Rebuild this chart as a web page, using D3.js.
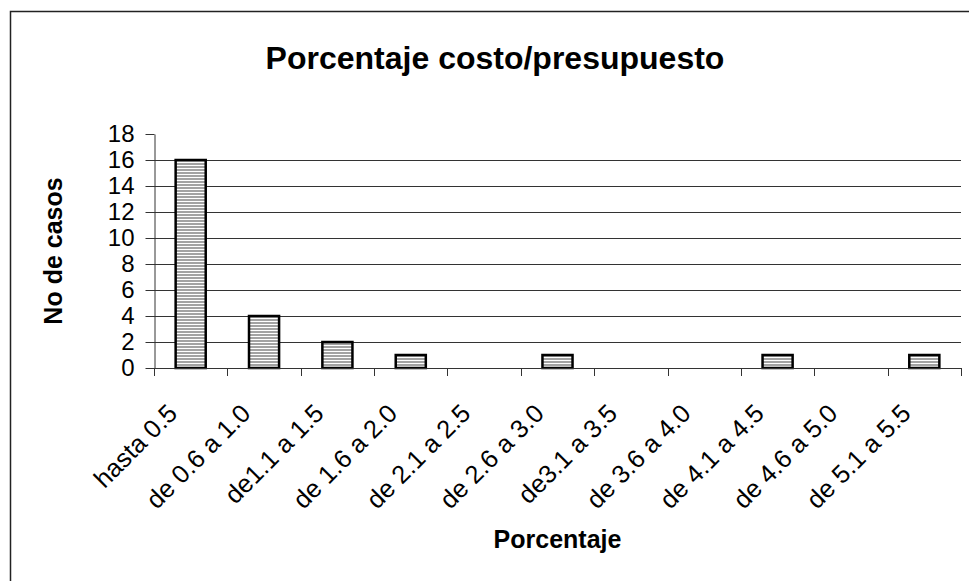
<!DOCTYPE html>
<html>
<head>
<meta charset="utf-8">
<script src="https://cdn.jsdelivr.net/npm/d3@7"></script>
<style>
  html, body { margin: 0; padding: 0; background: #fff; }
  svg { display: block; font-family: Arial, "Liberation Sans", sans-serif; }
</style>
</head>
<body>
<div id="chart"></div>
<script>
// chart data
const categories = ["hasta 0.5", "de 0.6 a 1.0", "de1.1 a 1.5", "de 1.6 a 2.0", "de 2.1 a 2.5",
    "de 2.6 a 3.0", "de3.1 a 3.5", "de 3.6 a 4.0", "de 4.1 a 4.5", "de 4.6 a 5.0", "de 5.1 a 5.5"];
const casos = [16, 4, 2, 1, 0, 1, 0, 0, 1, 0, 1];
const yTicks = [0, 2, 4, 6, 8, 10, 12, 14, 16, 18];

const W = 969, H = 581;
const plot = { left: 154, right: 961, top: 134, bottom: 368 };

const svg = d3.select("#chart").append("svg")
    .attr("width", W)
    .attr("height", H);

// striped fill like the excel pattern
const defs = svg.append("defs");
const pat = defs.append("pattern")
    .attr("id", "stripes")
    .attr("patternUnits", "userSpaceOnUse")
    .attr("width", 6)
    .attr("height", 3);
pat.append("rect").attr("width", 6).attr("height", 3).attr("fill", "#fff");
pat.append("rect").attr("y", 1).attr("width", 6).attr("height", 2).attr("fill", "#a3a3a3");

// outer chart border (right/bottom edges fall outside the picture)
svg.append("rect")
    .attr("x", 10.5).attr("y", 11.5)
    .attr("width", 1000).attr("height", 600)
    .attr("fill", "none")
    .attr("stroke", "#222")
    .attr("stroke-width", 1.5);

const x = d3.scaleBand()
    .domain(categories)
    .range([plot.left, plot.right])
    .padding(0);

const y = d3.scaleLinear()
    .domain([0, 18])
    .range([plot.bottom, plot.top]);

// gridlines (none at the top value)
svg.append("g")
    .selectAll("line")
    .data(yTicks.filter(t => t > 0 && t < 18))
    .join("line")
    .attr("x1", plot.left).attr("x2", plot.right)
    .attr("y1", d => Math.round(y(d)) + 0.5)
    .attr("y2", d => Math.round(y(d)) + 0.5)
    .attr("stroke", "#333")
    .attr("stroke-width", 1);

// bars
const barData = categories.map((c, i) => ({ cat: c, v: casos[i] })).filter(d => d.v > 0);
const barW = x.bandwidth() * 0.41;
svg.append("g")
    .selectAll("rect")
    .data(barData)
    .join("rect")
    .attr("x", d => x(d.cat) + (x.bandwidth() - barW) / 2)
    .attr("y", d => y(d.v))
    .attr("width", barW)
    .attr("height", d => y(0) - y(d.v))
    .attr("fill", "url(#stripes)")
    .attr("stroke", "#000")
    .attr("stroke-width", 2.5);

// y axis
const yAxis = svg.append("g")
    .attr("transform", `translate(${plot.left + 0.5},0)`)
    .call(d3.axisLeft(y).tickValues(yTicks).tickSize(9).tickPadding(11).tickSizeOuter(0));
yAxis.select(".domain").attr("stroke", "#333");
yAxis.selectAll(".tick line").attr("stroke", "#333");
yAxis.selectAll("text")
    .attr("font-size", 24)
    .attr("fill", "#000")
    .attr("font-family", "Arial, 'Liberation Sans', sans-serif");

// x axis line and boundary ticks
const xg = svg.append("g");
xg.append("line")
    .attr("x1", plot.left).attr("x2", plot.right + 1)
    .attr("y1", plot.bottom + 0.5).attr("y2", plot.bottom + 0.5)
    .attr("stroke", "#333");
const bounds = categories.map(c => x(c)).concat([plot.right]);
xg.selectAll("line.tk")
    .data(bounds)
    .join("line")
    .attr("class", "tk")
    .attr("x1", d => Math.round(d) + 0.5).attr("x2", d => Math.round(d) + 0.5)
    .attr("y1", plot.bottom).attr("y2", plot.bottom + 8)
    .attr("stroke", "#333");

// rotated category labels
xg.selectAll("text")
    .data(categories)
    .join("text")
    .attr("transform", d => `translate(${x(d) + x.bandwidth() / 2 - 12},${plot.bottom + 47}) rotate(-45)`)
    .attr("text-anchor", "end")
    .attr("font-size", 25.5)
    .attr("fill", "#000")
    .text(d => d);

// titles
svg.append("text")
    .attr("x", 495).attr("y", 69)
    .attr("text-anchor", "middle")
    .attr("font-size", 32)
    .attr("font-weight", "bold")
    .text("Porcentaje costo/presupuesto");

svg.append("text")
    .attr("x", (plot.left + plot.right) / 2).attr("y", 548)
    .attr("text-anchor", "middle")
    .attr("font-size", 25)
    .attr("font-weight", "bold")
    .text("Porcentaje");

svg.append("text")
    .attr("transform", `translate(62,${(plot.top + plot.bottom) / 2}) rotate(-90)`)
    .attr("text-anchor", "middle")
    .attr("font-size", 25)
    .attr("font-weight", "bold")
    .text("No de casos");
</script>
</body>
</html>
